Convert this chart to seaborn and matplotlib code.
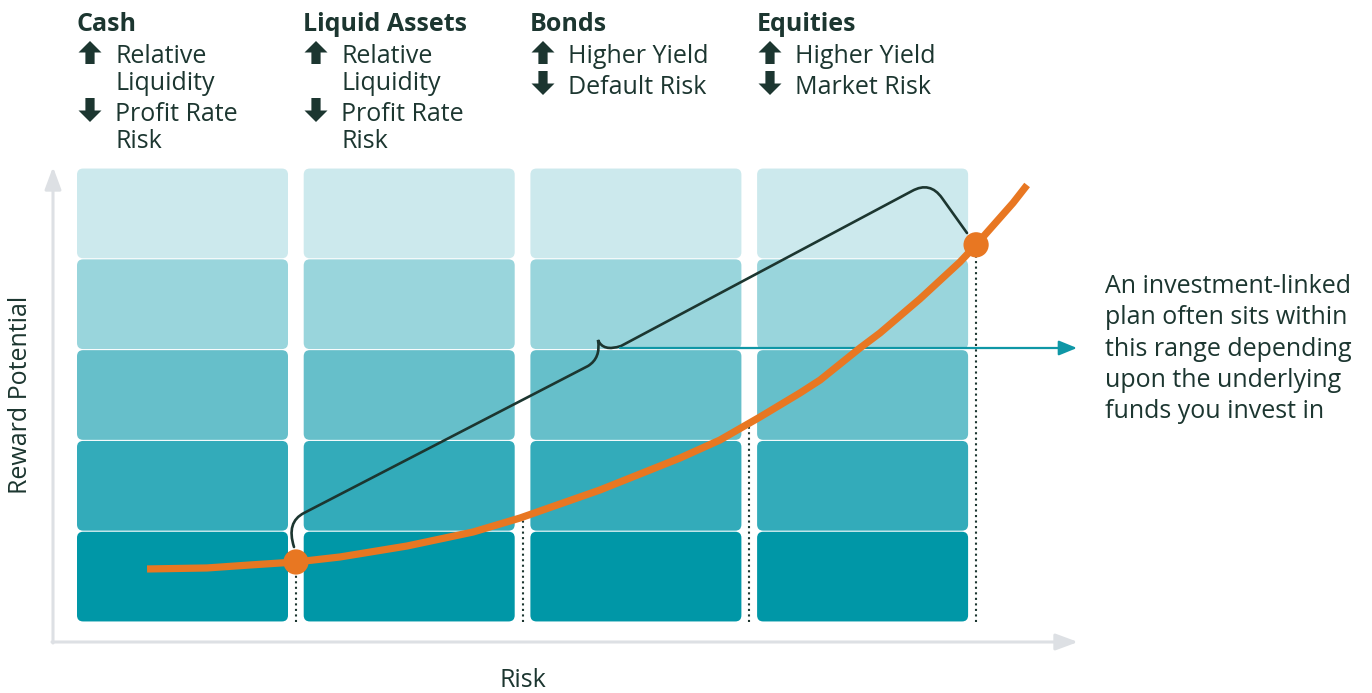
import numpy as np
import pandas as pd
import matplotlib
matplotlib.use("Agg")
import matplotlib.pyplot as plt
import seaborn as sns
from matplotlib.patches import FancyBboxPatch, Polygon, PathPatch
from matplotlib.path import Path

# ---------------- data ----------------
categories = ["Cash", "Liquid Assets", "Bonds", "Equities"]
up_labels = [["Relative", "Liquidity"], ["Relative", "Liquidity"], ["Higher Yield"], ["Higher Yield"]]
down_labels = [["Profit Rate", "Risk"], ["Profit Rate", "Risk"], ["Default Risk"], ["Market Risk"]]
reward_levels = [0, 1, 2, 3, 4]
level_colors = ["#0097a7", "#33abba", "#66bfca", "#99d5dc", "#cce9ed"]
curve_risk = [0.309, 0.573, 0.763, 0.966, 1.160, 1.456, 1.747, 1.954, 2.307, 2.660, 2.836,
              3.013, 3.189, 3.278, 3.454, 3.542, 3.719, 3.895, 3.961, 4.129, 4.191]
curve_reward = [0.584, 0.595, 0.628, 0.661, 0.716, 0.837, 0.991, 1.145, 1.454, 1.806, 2.004,
                2.258, 2.522, 2.665, 3.018, 3.183, 3.560, 3.965, 4.140, 4.615, 4.813]
range_risk = [0.966, 3.966]
gap_risk = [0.966, 1.966, 2.966, 3.966]
annotation_lines = ["An investment-linked", "plan often sits within", "this range depending",
                    "upon the underlying", "funds you invest in"]
x_label = "Risk"
y_label = "Reward Potential"

# ---------------- layout helpers ----------------
W, H = 1372, 693
X0, SX = 77.0, 226.7
Y0, SY = 622.0, 90.8
ASPECT = SX / SY


def P(xp, yp):
    """pixel position -> data position"""
    return ((xp - X0) / SX, (Y0 - yp) / SY)


TXT = "#1c3630"
ORANGE = "#e87722"
TEAL = "#0f97a6"
GREY = "#dde0e4"

sns.set_theme(style="white")
plt.rcParams["font.family"] = ["Open Sans", "DejaVu Sans"]

fig = plt.figure(figsize=(W / 100, H / 100), dpi=100)
ax = fig.add_axes([0, 0, 1, 1])
ax.set_axis_off()

# boxes
box_w = 211 / SX
for i, _ in enumerate(categories):
    for j in reward_levels:
        ax.add_patch(FancyBboxPatch((i, j + 0.006), box_w, 0.988,
                                    boxstyle="round,pad=0,rounding_size=0.027",
                                    mutation_aspect=ASPECT, fc=level_colors[j], ec="none", zorder=1))

# axes arrows
ax.annotate("", xy=P(53, 167), xytext=P(53, 643),
            arrowprops=dict(arrowstyle="-|>,head_length=1.35,head_width=0.5", color=GREY,
                            lw=2.2, shrinkA=0, shrinkB=0, mutation_scale=10), zorder=0)
ax.annotate("", xy=P(1078, 642), xytext=P(52, 642),
            arrowprops=dict(arrowstyle="-|>,head_length=1.35,head_width=0.5", color=GREY,
                            lw=2.2, shrinkA=0, shrinkB=0, mutation_scale=10), zorder=0)

# dotted guides from curve to base
for gx in gap_risk:
    gy = np.interp(gx, curve_risk, curve_reward)
    ax.plot([gx, gx], [0, gy], ls=":", lw=1.5, color=TXT, zorder=2)

# curly brace spanning the range
verts_px = [(294, 547), (286, 522), (304, 513),
            (588, 366),
            (601, 358), (598, 340),
            (603, 352), (621, 346),
            (912, 191),
            (930, 181), (942, 198),
            (967, 233)]
codes = [Path.MOVETO, Path.CURVE3, Path.CURVE3,
         Path.LINETO,
         Path.CURVE3, Path.CURVE3,
         Path.CURVE3, Path.CURVE3,
         Path.LINETO,
         Path.CURVE3, Path.CURVE3,
         Path.LINETO]
brace = Path([P(*v) for v in verts_px], codes)
ax.add_patch(PathPatch(brace, fc="none", ec=TXT, lw=1.9, zorder=3, capstyle="round"))

# teal pointer arrow
ax.annotate("", xy=P(1077, 348), xytext=P(620, 348),
            arrowprops=dict(arrowstyle="-|>,head_length=1.1,head_width=0.45", color=TEAL,
                            lw=1.6, shrinkA=0, shrinkB=0, mutation_scale=10), zorder=3)

# orange curve + dots (seaborn)
df = pd.DataFrame({"risk": curve_risk, "reward": curve_reward})
sns.lineplot(data=df, x="risk", y="reward", color=ORANGE, lw=5.2, ax=ax,
             estimator=None, sort=True, zorder=4, solid_capstyle="butt", solid_joinstyle="round")
dots = pd.DataFrame({"risk": range_risk,
                     "reward": np.interp(range_risk, curve_risk, curve_reward)})
sns.scatterplot(data=dots, x="risk", y="reward", s=330, color=ORANGE, edgecolor="none",
                ax=ax, zorder=5)
ax.set_xlabel("")
ax.set_ylabel("")
ax.set_xlim(P(0, 0)[0], P(W, 0)[0])
ax.set_ylim(P(0, H)[1], P(0, 0)[1])


def arrow_glyph(cx, top, bottom, up=True):
    hw, sw, hh = 11.5, 4.6, 11.5
    if up:
        pts = [(cx - hw, top + hh), (cx, top), (cx + hw, top + hh), (cx + sw, top + hh),
               (cx + sw, bottom), (cx - sw, bottom), (cx - sw, top + hh)]
    else:
        pts = [(cx - hw, bottom - hh), (cx, bottom), (cx + hw, bottom - hh), (cx + sw, bottom - hh),
               (cx + sw, top), (cx - sw, top), (cx - sw, bottom - hh)]
    ax.add_patch(Polygon([P(*p) for p in pts], closed=True, fc=TXT, ec="none", zorder=6))


FS = 18
col_px = [77, 303, 530, 757]
for i, cat in enumerate(categories):
    cx = col_px[i]
    ax.text(*P(cx, 31), cat, fontsize=FS, fontweight="bold", color=TXT, va="baseline", ha="left")
    base = 63
    arrow_glyph(cx + 13, base - 22, base + 1, up=True)
    for line in up_labels[i]:
        ax.text(*P(cx + 38, base), line, fontsize=FS, color=TXT, va="baseline", ha="left")
        base += 27
    base += 4
    arrow_glyph(cx + 13, base - 23, base + 1, up=False)
    for line in down_labels[i]:
        ax.text(*P(cx + 38, base), line, fontsize=FS, color=TXT, va="baseline", ha="left")
        base += 27

for k, line in enumerate(annotation_lines):
    ax.text(*P(1105, 293 + 31.3 * k), line, fontsize=FS, color=TXT, va="baseline", ha="left")

ax.text(*P(523, 687), x_label, fontsize=FS, color=TXT, va="baseline", ha="center")
ax.text(*P(21, 395), y_label, fontsize=FS, color=TXT, va="center", ha="center", rotation=90)

fig.savefig("out.png", dpi=100)
